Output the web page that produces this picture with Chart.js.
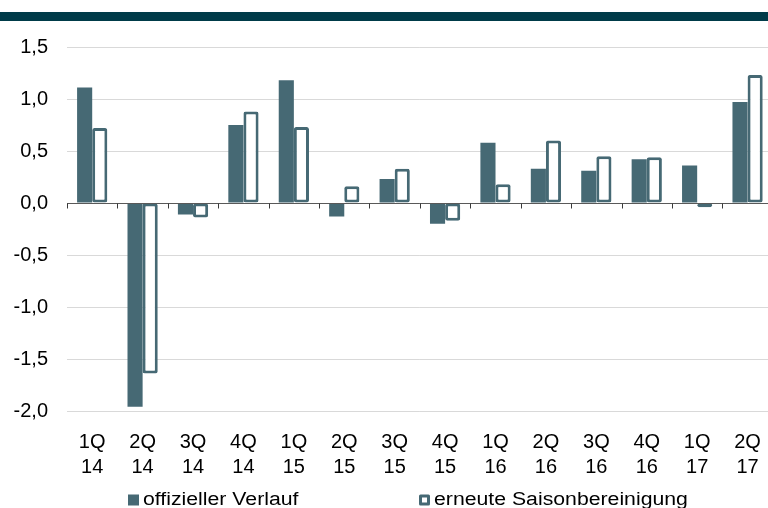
<!DOCTYPE html>
<html>
<head>
<meta charset="utf-8">
<script src="https://cdn.jsdelivr.net/npm/chart.js@4.4.1/dist/chart.umd.min.js"></script>
<style>
  html, body { margin: 0; padding: 0; background: #fff; overflow: hidden; width: 768px; height: 508px; }
  #band { position: absolute; left: 0; top: 12px; width: 768px; height: 9px; background: #003b49; }
  #wrap { position: absolute; left: 0; top: 0; width: 780px; height: 508px; }
</style>
</head>
<body>
<div id="band"></div>
<div id="wrap"><canvas id="c"></canvas></div>
<script>
const categories = [["1Q","14"],["2Q","14"],["3Q","14"],["4Q","14"],["1Q","15"],["2Q","15"],["3Q","15"],["4Q","15"],["1Q","16"],["2Q","16"],["3Q","16"],["4Q","16"],["1Q","17"],["2Q","17"]];
const offiziellerVerlauf = [1.11, -1.96, -0.11, 0.75, 1.18, -0.13, 0.23, -0.20, 0.58, 0.33, 0.31, 0.42, 0.36, 0.97];
const erneuteSaisonbereinigung = [0.72, -1.64, -0.14, 0.88, 0.73, 0.16, 0.33, -0.17, 0.18, 0.60, 0.45, 0.44, -0.04, 1.23];
const seriesNames = ["offizieller Verlauf", "erneute Saisonbereinigung"];
const yMin = -2, yMax = 1.5, yStep = 0.5;

const barColor = '#466974';
const FONT = "'Liberation Sans', Arial, sans-serif";

const zeroLinePlugin = {
  id: 'zeroLine',
  afterDatasetsDraw(chart) {
    const {ctx, chartArea, scales} = chart;
    const y0 = Math.round(scales.y.getPixelForValue(0)) + 0.5;
    ctx.save();
    ctx.strokeStyle = '#595959';
    ctx.lineWidth = 1;
    ctx.beginPath();
    ctx.moveTo(chartArea.left, y0);
    ctx.lineTo(chartArea.right, y0);
    ctx.stroke();
    ctx.strokeStyle = '#3a3a3a';
    const n = categories.length;
    for (let i = 0; i <= n; i++) {
      const x = Math.round(scales.x.getPixelForValue(i - 0.5)) + 0.5;
      ctx.beginPath();
      ctx.moveTo(x, y0);
      ctx.lineTo(x, y0 + 5);
      ctx.stroke();
    }
    ctx.restore();
  }
};

// Legend drawn on the canvas from the datasets' own labels and styles
const customLegend = {
  id: 'customLegend',
  afterDraw(chart) {
    const {ctx} = chart;
    const xs = [128, 419];
    const boxTop = 494.5, box = 11;
    ctx.save();
    chart.data.datasets.forEach((ds, i) => {
      const x = xs[i];
      if (ds.borderWidth > 0) {
        ctx.fillStyle = '#fff';
        ctx.fillRect(x, boxTop, box, box);
        ctx.strokeStyle = ds.borderColor;
        ctx.lineWidth = 3;
        ctx.lineJoin = 'round';
        ctx.strokeRect(x + 1.5, boxTop + 1.5, box - 3, box - 3);
      } else {
        ctx.fillStyle = ds.backgroundColor;
        ctx.fillRect(x, boxTop, box, box);
      }
      ctx.save();
      ctx.translate(x + 15, 505);
      ctx.scale(1.18, 1);
      ctx.font = "18px " + FONT;
      ctx.textBaseline = 'alphabetic';
      ctx.textAlign = 'left';
      ctx.fillStyle = '#000';
      ctx.fillText(ds.label, 0, 0);
      ctx.restore();
    });
    ctx.restore();
  }
};

new Chart(document.getElementById('c'), {
  type: 'bar',
  data: {
    labels: categories,
    datasets: [
      {
        label: seriesNames[0],
        data: offiziellerVerlauf,
        backgroundColor: barColor,
        borderColor: barColor,
        borderWidth: 0,
        categoryPercentage: 0.6,
        barPercentage: 1.0
      },
      {
        label: seriesNames[1],
        data: erneuteSaisonbereinigung,
        backgroundColor: '#ffffff',
        borderColor: barColor,
        borderWidth: 3,
        borderSkipped: false,
        borderRadius: 2,
        categoryPercentage: 0.6,
        barPercentage: 1.0
      }
    ]
  },
  options: {
    responsive: true,
    maintainAspectRatio: false,
    animation: false,
    devicePixelRatio: 1,
    layout: { padding: { left: 0, right: 2, top: 47, bottom: 9 } },
    plugins: {
      tooltip: { enabled: false },
      legend: { display: false }
    },
    scales: {
      x: {
        grid: { display: false, drawTicks: false },
        border: { display: false },
        ticks: { font: { family: FONT, size: 20, lineHeight: 1.25 }, color: '#000', padding: 19, maxRotation: 0, autoSkip: false }
      },
      y: {
        min: yMin, max: yMax,
        afterFit(scale) { scale.width = 67; },
        grid: { color: '#d9d9d9', lineWidth: 1, drawTicks: false },
        border: { display: false },
        ticks: {
          stepSize: yStep,
          font: { family: FONT, size: 20 },
          color: '#000',
          padding: 19,
          callback: (v) => v.toFixed(1).replace('.', ',')
        }
      }
    }
  },
  plugins: [zeroLinePlugin, customLegend]
});
</script>
</body>
</html>
